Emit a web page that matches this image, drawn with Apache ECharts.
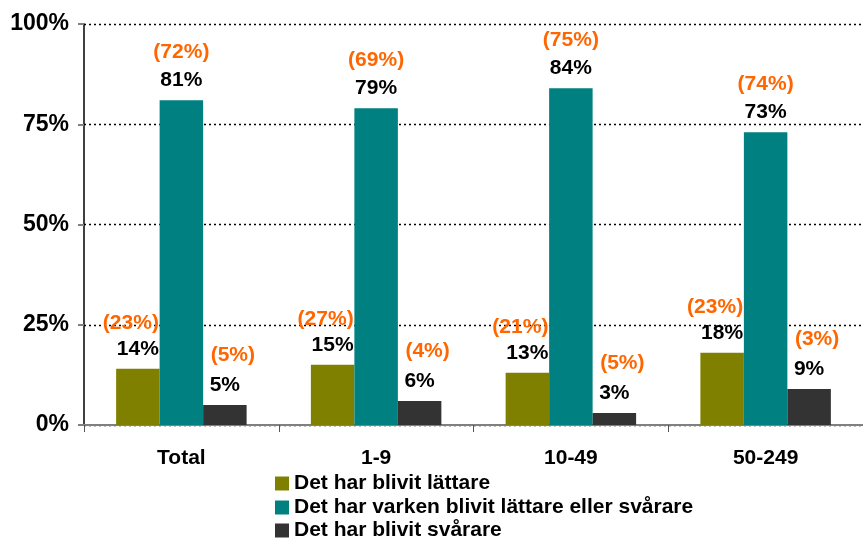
<!DOCTYPE html>
<html>
<head>
<meta charset="utf-8">
<script src="https://cdn.jsdelivr.net/npm/echarts@6/dist/echarts.min.js"></script>
<style>
  html, body { margin: 0; padding: 0; background: #fff; }
  #chart { width: 863px; height: 538px; }
</style>
</head>
<body>
<div id="chart"></div>
<script>
// kategorier och värden (procent)
var categories = ['Total', '1-9', '10-49', '50-249'];
var seriesNames = [
  'Det har blivit lättare',
  'Det har varken blivit lättare eller svårare',
  'Det har blivit svårare'
];
var lattare = [14, 15, 13, 18];
var varken = [81, 79, 84, 73];
var svarare = [5, 6, 3, 9];
// föregående mätning (inom parentes)
var lattarePrev = [23, 27, 21, 23];
var varkenPrev = [72, 69, 75, 74];
var svararePrev = [5, 4, 5, 3];
var yTicks = [0, 25, 50, 75, 100];

var font = '"Liberation Sans", Arial, sans-serif';

function makeLabel(prev, orangeLH, orangePad) {
  return {
    show: true,
    position: 'top',
    distance: 7,
    formatter: function (p) {
      return '{o|(' + prev[p.dataIndex] + '%)}\n{v|' + p.value + '%}';
    },
    rich: {
      o: { color: '#FF6600', fontSize: 21, fontWeight: 'bold', fontFamily: font, lineHeight: orangeLH, padding: orangePad },
      v: { color: '#000', fontSize: 21, fontWeight: 'bold', fontFamily: font, lineHeight: 26 }
    }
  };
}

// en legend per serie, staplade under varandra
var legendTops = [473, 497, 520];
var legends = seriesNames.map(function (name, i) {
  return {
    left: 275,
    top: legendTops[i],
    padding: 0,
    itemWidth: 14,
    itemHeight: 14,
    icon: 'rect',
    data: [name],
    textStyle: { fontSize: 21, fontWeight: 'bold', color: '#000', fontFamily: font }
  };
});

var myChart = echarts.init(document.getElementById('chart'));
myChart.setOption({
  animation: false,
  grid: { left: 84, right: -11, top: 24, bottom: 113 },
  legend: legends,
  xAxis: {
    type: 'category',
    data: categories,
    axisLine: { lineStyle: { color: '#808080', width: 2 } },
    axisTick: { show: true, length: 7, lineStyle: { color: '#555', width: 1 } },
    axisLabel: { fontSize: 21, fontWeight: 'bold', color: '#000', fontFamily: font, margin: 23 }
  },
  yAxis: {
    type: 'value',
    min: yTicks[0],
    max: yTicks[yTicks.length - 1],
    interval: 25,
    axisLine: { show: true, lineStyle: { color: '#000', width: 1.5 } },
    axisTick: { show: true, length: 6, lineStyle: { color: '#808080', width: 2 } },
    axisLabel: { formatter: '{value}%', fontSize: 23, fontWeight: 'bold', color: '#000', fontFamily: font, margin: 15 },
    splitLine: { show: true, lineStyle: { color: '#000', type: [2, 3], width: 1.3 } }
  },
  series: [
    {
      name: seriesNames[0], type: 'bar', data: lattare,
      itemStyle: { color: '#808000' },
      barGap: '0%', barCategoryGap: '33%',
      label: makeLabel(lattarePrev, 25, [0, 14, 0, 0])
    },
    {
      name: seriesNames[1], type: 'bar', data: varken,
      itemStyle: { color: '#008080' },
      barGap: '0%', barCategoryGap: '33%',
      label: makeLabel(varkenPrev, 30, 0)
    },
    {
      name: seriesNames[2], type: 'bar', data: svarare,
      itemStyle: { color: '#333333' },
      barGap: '0%', barCategoryGap: '33%',
      label: makeLabel(svararePrev, 34, [0, 0, 0, 16])
    }
  ]
});
</script>
</body>
</html>
